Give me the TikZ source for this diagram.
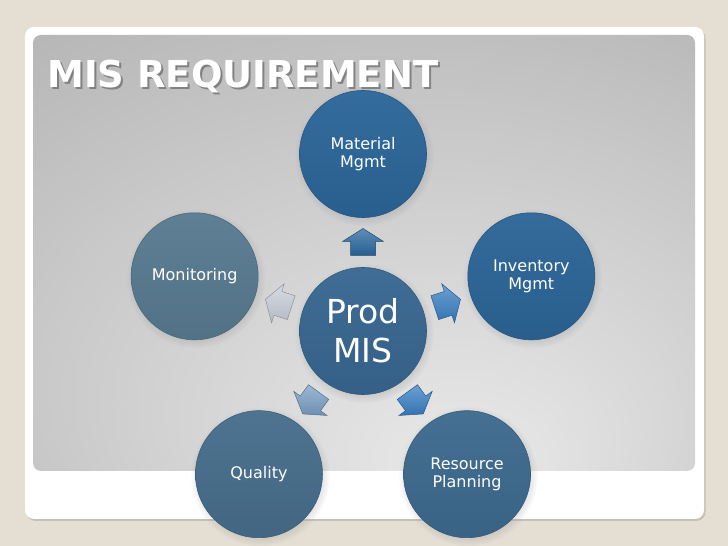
\documentclass[tikz,border=0pt]{standalone}
\usepackage{fontspec}
\setmainfont{DejaVu Sans}
\newfontfamily\titlefont{DejaVu Sans}
\usetikzlibrary{calc,shadows}

\definecolor{slidebg}{RGB}{228,222,211}
\definecolor{panellight}{RGB}{234,234,234}
\definecolor{panelmid}{RGB}{200,200,200}
\definecolor{paneldark}{RGB}{150,150,150}
\definecolor{prodblue}{RGB}{56,103,145}
\definecolor{matblue}{RGB}{43,102,153}
\definecolor{invblue}{RGB}{44,101,151}
\definecolor{resblue}{RGB}{61,106,142}
\definecolor{qualblue}{RGB}{71,110,140}
\definecolor{monblue}{RGB}{88,122,144}
\definecolor{arrowdark}{RGB}{42,104,160}
\definecolor{arrowblue}{RGB}{58,128,196}
\definecolor{arrowsoft}{RGB}{122,160,198}
\definecolor{arrowpale}{RGB}{200,208,218}

\pgfdeclareradialshading{panelglow}{\pgfpoint{8bp}{-26bp}}{color(0bp)=(panellight); color(30bp)=(panelmid); color(72bp)=(paneldark)}

\tikzset{
  pics/blockarrow/.style={code={
    \draw[draw=#1!70!black,line width=0.5pt,top color=#1!75!white,bottom color=#1!90!black]
      (-13,-12.5) -- (1,-12.5) -- (1,-20.5) -- (14,0) -- (1,20.5) -- (1,12.5) -- (-13,12.5) -- cycle;
  }}
}

\begin{document}
\begin{tikzpicture}[x=1pt,y=1pt,
    hub/.style={circle,minimum size=127pt,inner sep=0pt,align=center,text=white,
      top color=#1!96!white,bottom color=#1!93!black,draw=#1!85!black,line width=0.6pt,
      circular drop shadow={shadow xshift=1pt,shadow yshift=-2pt,opacity=0.25},
      font=\fontsize{16}{18.5}\selectfont},
    hub/.default=prodblue]
  % slide
  \fill[slidebg] (0,0) rectangle (728,546);
  \fill[white,rounded corners=9pt,drop shadow={shadow xshift=1.5pt,shadow yshift=-2pt,opacity=0.3}] (25,27) rectangle (704,519);
  \shade[shading=panelglow,rounded corners=8pt] (33,75) rectangle (695,511);
  % title
  \node[anchor=base west,inner sep=0pt,text=black!65,opacity=0.6,font=\titlefont\bfseries\fontsize{37}{40}\selectfont] at (49,456) {MIS REQUIREMENT};
  \node (title) [anchor=base west,inner sep=0pt,text=white,font=\titlefont\bfseries\fontsize{37}{40}\selectfont] at (47,458) {MIS REQUIREMENT};
  % circles
  \node (prod) [hub=prodblue,font=\fontsize{33}{39}\selectfont] at (363,215) {Prod\\MIS};
  \node (mat) [hub=matblue] at ($(prod)+(90:177)$) {Material\\Mgmt};
  \node (inv) [hub=invblue] at ($(prod)+(18:177)$) {Inventory\\Mgmt};
  \node (res) [hub=resblue] at ($(prod)+(-54:177)$) {Resource\\Planning};
  \node (qual) [hub=qualblue] at ($(prod)+(-126:177)$) {Quality};
  \node (mon) [hub=monblue] at ($(prod)+(162:177)$) {Monitoring};
  % arrows
  \foreach \k/\a/\c in {mat/90/arrowdark,inv/18/arrowblue,res/-54/arrowblue,qual/-126/arrowsoft,mon/162/arrowpale}
    \pic[rotate=\a] at ($(prod)!0.5!(\k)$) {blockarrow=\c};
\end{tikzpicture}
\end{document}
